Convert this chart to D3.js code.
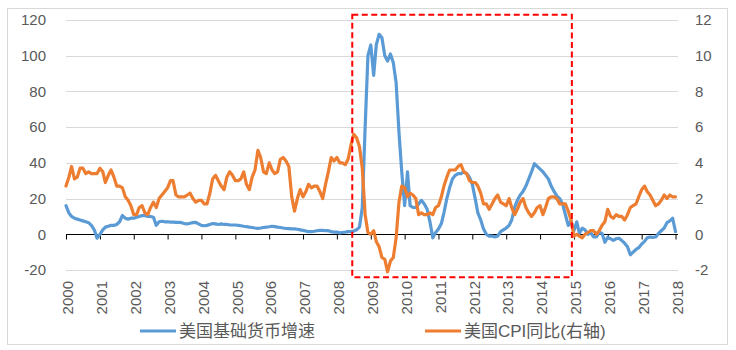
<!DOCTYPE html>
<html>
<head>
<meta charset="utf-8">
<script src="https://cdn.jsdelivr.net/npm/d3@7"></script>
<style>
  html, body { margin: 0; padding: 0; background: #fff; }
  svg { display: block; }
  text { font-family: "Liberation Sans", "Noto Sans CJK SC", sans-serif; fill: #595959; }
</style>
</head>
<body>
<svg id="chart" width="736" height="350"></svg>
<script>
// ---- Data ----
const startMonth = new Date(2000, 0, 1);
const endMonth = new Date(2018, 0, 1);
const yearTicks = ["2000","2001","2002","2003","2004","2005","2006","2007","2008","2009",
                   "2010","2011","2012","2013","2014","2015","2016","2017","2018"];
const leftTicks = [-20, 0, 20, 40, 60, 80, 100, 120];
const rightTicks = [-2, 0, 2, 4, 6, 8, 10, 12];
const seriesNames = ["美国基础货币增速", "美国CPI同比(右轴)"];

// US monetary base YoY (%), monthly Jan 2000 - Jan 2018
const baseMoney = [
  16, 12, 10, 9, 8.5, 8, 7.5, 7, 6.5, 5, 2.5, -2.2,
  0, 2.5, 4, 4.5, 5, 5, 5.5, 7, 10.5, 9, 8.5, 9,
  9, 9.5, 10, 10.5, 10.5, 10, 10, 9.5, 5, 7, 7.3, 7,
  7, 6.8, 6.8, 6.7, 6.7, 6.5, 6, 5.8, 6.2, 6.5, 6.7, 5.8,
  5, 4.8, 5, 5.5, 6, 5.8, 5.5, 5.8, 5.5, 5.5, 5.3, 5.2,
  5.2, 5, 4.8, 4.5, 4.3, 4, 3.8, 3.5, 3.3, 3.5, 3.8, 4,
  4.2, 4.5, 4.3, 4, 3.8, 3.5, 3.3, 3.2, 3, 3, 2.8, 2.5,
  2.2, 1.8, 1.5, 1.5, 1.7, 2, 2.2, 2.2, 2, 2, 1.5, 1.2,
  1.2, 0.8, 1, 1.2, 1.5, 1.5, 1.8, 2.5, 4, 15, 60, 100,
  106, 89, 106, 112, 110, 100, 97, 101, 96, 85, 57, 35,
  16, 35, 16, 15, 15, 17, 19, 17, 14, 7, -2, 1,
  3, 6, 12, 20, 26, 31, 33, 34, 34, 35, 34, 32,
  28, 20, 12, 8, 3, 0, -1, -1, -1.5, -1, 1.5, 2.5,
  3.5, 5, 8, 15, 19, 22, 24, 27, 31, 35, 39.5, 38,
  36.5, 35, 33, 31, 27, 24, 21.5, 20, 17, 11, 5, 7.5,
  2, 7, 0.5, 3.4, 2.5, 0, 1, -1.5, -1.5, 1, 0.5, -4.5,
  -1.7, -2.5, -3.4, -2.5, -2.2, -3.5, -5, -7, -11.5, -10, -8.5, -7.5,
  -5.5, -4, -2, -1.5, -1.7, -1.5, 0.5, 2, 3.5, 6.5, 7.5, 9,
  1.5
];

// US CPI YoY (%), monthly Jan 2000 - Jan 2018 (right axis)
const cpi = [
  2.7, 3.2, 3.8, 3.1, 3.2, 3.7, 3.7, 3.4, 3.5, 3.4, 3.4, 3.4,
  3.7, 3.5, 2.9, 3.3, 3.6, 3.2, 2.7, 2.7, 2.6, 2.1, 1.9, 1.6,
  1.1, 1.1, 1.5, 1.6, 1.2, 1.1, 1.5, 1.8, 1.5, 2.0, 2.2, 2.4,
  2.6, 3.0, 3.0, 2.2, 2.1, 2.1, 2.1, 2.2, 2.3, 2.0, 1.8, 1.9,
  1.9, 1.7, 1.7, 2.3, 3.1, 3.3, 3.0, 2.7, 2.5, 3.2, 3.5, 3.3,
  3.0, 3.0, 3.1, 3.5, 2.8, 2.5, 3.2, 3.6, 4.7, 4.3, 3.5, 3.4,
  4.0, 3.6, 3.4, 3.5, 4.2, 4.3, 4.1, 3.8, 2.1, 1.3, 2.0, 2.5,
  2.1, 2.4, 2.8, 2.6, 2.7, 2.7, 2.4, 2.0, 2.8, 3.5, 4.3, 4.1,
  4.3, 4.0, 4.0, 3.9, 4.2, 5.0, 5.6, 5.4, 4.9, 3.7, 1.1, 0.1,
  0.0, 0.2, -0.4, -0.7, -1.3, -1.4, -2.1, -1.5, -1.3, -0.2, 1.8, 2.7,
  2.6, 2.1, 2.3, 2.2, 2.0, 1.1, 1.2, 1.1, 1.1, 1.2, 1.1, 1.5,
  1.6, 2.1, 2.7, 3.2, 3.6, 3.6, 3.6, 3.8, 3.9, 3.5, 3.4, 3.0,
  2.9, 2.9, 2.7, 2.3, 1.7, 1.7, 1.4, 1.7, 2.0, 2.2, 1.8, 1.7,
  1.6, 2.0, 1.5, 1.1, 1.4, 1.8, 2.0, 1.5, 1.2, 1.0, 1.2, 1.5,
  1.6, 1.1, 1.5, 2.0, 2.1, 2.1, 2.0, 1.7, 1.7, 1.7, 1.3, 0.8,
  -0.1, 0.0, -0.1, -0.2, 0.0, 0.1, 0.2, 0.2, 0.0, 0.2, 0.5, 0.7,
  1.4, 1.0, 0.9, 1.1, 1.0, 1.0, 0.8, 1.1, 1.5, 1.6, 1.7, 2.1,
  2.5, 2.7, 2.4, 2.2, 1.9, 1.6, 1.7, 1.9, 2.2, 2.0, 2.2, 2.1,
  2.1
];

// highlighted period (crisis window) in dates
const highlightStart = new Date(2008, 5, 15);
const highlightEnd = new Date(2014, 11, 10);
const highlightTop = 12.3, highlightBottom = -2.4;

// ---- Drawing ----
const svg = d3.select("#chart");
const months = d3.timeMonth.range(startMonth, d3.timeMonth.offset(endMonth, 1));

const plotL = 66, plotR = 678, plotT = 20, plotB = 270;
const x = d3.scaleTime().domain([startMonth, endMonth]).range([66, 675.5]);
const yL = d3.scaleLinear().domain([-20, 120]).range([plotB, plotT]);
const yR = d3.scaleLinear().domain([-2, 12]).range([plotB, plotT]);

const blue = "#5B9BD5", orange = "#ED7D31";

// outer border
svg.append("rect").attr("x", 7.5).attr("y", 8.5).attr("width", 720).attr("height", 336)
  .attr("fill", "none").attr("stroke", "#d9d9d9").attr("stroke-width", 1);

// gridlines
svg.append("g").selectAll("line").data(leftTicks.filter(d => d !== 0)).join("line")
  .attr("x1", plotL).attr("x2", plotR)
  .attr("y1", d => Math.round(yL(d)) + 0.5).attr("y2", d => Math.round(yL(d)) + 0.5)
  .attr("stroke", "#d9d9d9").attr("stroke-width", 1);

// left axis labels
svg.append("g").selectAll("text").data(leftTicks).join("text")
  .attr("x", 46).attr("y", d => yL(d)).attr("dy", "0.35em")
  .attr("text-anchor", "end").attr("font-size", 15).text(d => d);

// right axis labels
svg.append("g").selectAll("text").data(rightTicks).join("text")
  .attr("x", 695).attr("y", d => yR(d)).attr("dy", "0.35em")
  .attr("text-anchor", "start").attr("font-size", 15).text(d => d);

// x axis at zero
const y0 = Math.round(yL(0)) + 0.5;
const xAxis = d3.axisBottom(x)
  .tickValues(yearTicks.map(y => new Date(+y, 0, 1)))
  .tickSize(5).tickSizeOuter(0).tickFormat("");
const axG = svg.append("g").attr("transform", `translate(0,${y0})`).call(xAxis);
axG.select(".domain").attr("stroke", "#000").attr("d", `M${plotL},0H${plotR}`);
axG.selectAll(".tick line").attr("stroke", "#000");

// year labels (rotated)
svg.append("g").selectAll("text").data(yearTicks).join("text")
  .attr("transform", d => `translate(${x(new Date(+d, 0, 1)) + 2},281) rotate(-90)`)
  .attr("text-anchor", "end").attr("dy", "0.35em").attr("font-size", 15).text(d => d);

// series lines
const lineL = d3.line().x((d, i) => x(months[i])).y(d => yL(d));
const lineR = d3.line().x((d, i) => x(months[i])).y(d => yR(d));
svg.append("path").datum(baseMoney).attr("d", lineL)
  .attr("fill", "none").attr("stroke", blue).attr("stroke-width", 3.2)
  .attr("stroke-linejoin", "round").attr("stroke-linecap", "round");
svg.append("path").datum(cpi).attr("d", lineR)
  .attr("fill", "none").attr("stroke", orange).attr("stroke-width", 3.2)
  .attr("stroke-linejoin", "round").attr("stroke-linecap", "round");

// red dashed highlight box
svg.append("rect")
  .attr("x", x(highlightStart)).attr("y", yR(highlightTop))
  .attr("width", x(highlightEnd) - x(highlightStart))
  .attr("height", yR(highlightBottom) - yR(highlightTop))
  .attr("fill", "none").attr("stroke", "#FF0000").attr("stroke-width", 2)
  .attr("stroke-dasharray", "6,3.5");

// legend
const legend = [
  { name: seriesNames[0], color: blue, x: 140 },
  { name: seriesNames[1], color: orange, x: 425 }
];
const lg = svg.append("g").selectAll("g").data(legend).join("g")
  .attr("transform", d => `translate(${d.x},331)`);
lg.append("line").attr("x1", 0).attr("x2", 36).attr("y1", 0).attr("y2", 0)
  .attr("stroke", d => d.color).attr("stroke-width", 3.2);
lg.append("text").attr("x", 39).attr("y", 0).attr("dy", "0.36em")
  .attr("font-size", 17).text(d => d.name);
</script>
</body>
</html>
